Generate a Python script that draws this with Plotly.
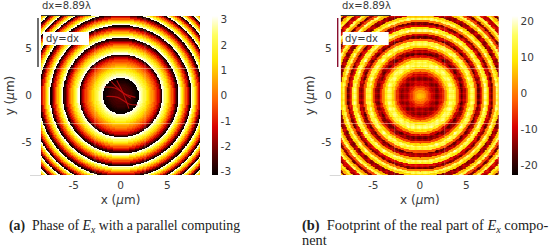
import numpy as np
import plotly.graph_objects as go

W, H = 550, 248
phase_step_um = 0.125
real_step_um = 0.25
phase_profile = [-2.3,-2.3,-2.3,-2.4,-2.4,-2.4,-2.5,-2.5,-2.6,-2.6,-2.7,-2.8,-2.9,-3.0,-3.1,-3.1,
                 3.1,2.9,2.7,2.5,2.2,2.0,1.7,1.4,1.2,0.9,0.6,0.4,0.1,-0.2,-0.5,-0.8,-1.2,-1.6,-2.2,-2.9,
                 3.1,2.8,2.4,2.0,1.6,1.1,0.7,0.2,-0.3,-0.8,-1.3,-1.9,-2.5,-3.0,
                 3.1,2.6,2.0,1.4,0.8,0.2,-0.4,-1.0,-1.6,-2.3,-3.0,
                 3.1,2.5,1.8,1.1,0.4,-0.3,-1.0,-1.7,-2.4,-3.0,
                 3.0,2.2,1.4,0.6,-0.2,-1.0,-1.9,-2.9,
                 3.0,2.0,1.1,0.1,-0.9,-1.9,-2.9,
                 3.0,2.0,1.0,0.0,-1.0,-2.0,-3.0,
                 3.0,2.0,1.0,0.0,-1.0,-2.0,-3.0,3.0]
real_profile = [7,6,3,-2,-7,-11,-14,-16,-16,-13,-7,2,11,18,19,13,1,-11,-18,-15,-5,9,19,15,-3,-18,-13,4,19,13,
                -11,-17,0,18,9,-16,-15,7,18,-5,-17,5,17,-11,-14,14,6,-17,7,14,-16]
bead_ripple = [1.0, 0.92, 0.76, 0.92]
phase_ticks = [-3,-2,-1,0,1,2,3]
real_ticks = [-20,-10,0,10,20]
axis_ticks = [-5,0,5]
# faint red streaks inside the dark core of panel (a), in micrometres
streak_x = [[-1.7,-0.6,0.6,1.6],[-1.5,-0.3,0.9,1.8],[-1.0,0.0,1.1],[-0.4,0.3,0.9]]
streak_y = [[0.9,0.8,0.1,-0.2],[-0.1,-0.2,-0.9,-1.0],[1.5,0.5,-0.3],[1.6,0.2,-1.4]]
hot = [[0,"#050000"],[0.12,"#500000"],[0.3,"#d80000"],[0.47,"#ff6000"],[0.72,"#ffe800"],[0.88,"#ffff60"],[1,"#ffffff"]]
TXT = "#3a3a3a"

grid = np.arange(-8.5, 8.5001, 0.0625)
xx, yy = np.meshgrid(grid, grid)
rr = np.hypot(xx, yy)
z_phase = np.array(phase_profile)[np.clip(np.rint(rr / phase_step_um).astype(int), 0, len(phase_profile) - 1)]
real_lookup = np.array(real_profile, dtype=float)[np.clip(np.rint(rr / real_step_um).astype(int), 0, len(real_profile) - 1)]
ripple = np.array(bead_ripple)
ix = np.floor((xx + 8.5) / 0.16).astype(int) % 4
iy = np.floor((yy + 8.5) / 0.16).astype(int) % 4
z_real = real_lookup * ripple[ix] * ripple[iy]

def px(x): return x / W
def py(y): return 1 - y / H

fig = go.Figure()
panels = [
    dict(x0=41, x1=200, cb=218, z=z_phase, zmin=-3.14, zmax=3.14, ticks=phase_ticks, xa="x", ya="y"),
    dict(x0=340.7, x1=499, cb=518, z=z_real, zmin=-22.8, zmax=21.4, ticks=real_ticks, xa="x2", ya="y2"),
]
for p in panels:
    fig.add_trace(go.Heatmap(
        x=grid, y=grid, z=p["z"], zmin=p["zmin"], zmax=p["zmax"], zsmooth="best",
        colorscale=hot, xaxis=p["xa"], yaxis=p["ya"], hoverinfo="skip",
        colorbar=dict(x=px(p["cb"] - 6), xanchor="left", xref="paper", y=py(175), yanchor="bottom", yref="paper",
                      len=159 / H, lenmode="fraction", thickness=6, thicknessmode="pixels",
                      outlinewidth=0, ticks="", tickvals=p["ticks"], ticktext=[str(t) for t in p["ticks"]],
                      tickfont=dict(family="DejaVu Sans", size=10.5, color=TXT), ypad=0, xpad=0),
    ))
for sx, sy in zip(streak_x, streak_y):
    fig.add_trace(go.Scatter(x=sx, y=sy, mode="lines", xaxis="x", yaxis="y", hoverinfo="skip",
                             line=dict(color="#d01010", width=1.1, shape="spline"), opacity=0.8))

axis = dict(range=[-8.5, 8.5], tickvals=axis_ticks, ticktext=[str(t) for t in axis_ticks], ticks="",
            showgrid=False, zeroline=False, showline=False,
            tickfont=dict(family="DejaVu Sans", size=10.5, color=TXT),
            title_font=dict(family="DejaVu Sans", size=12, color=TXT))
lay = dict(width=W, height=H, autosize=False, margin=dict(l=0, r=0, t=0, b=0),
           paper_bgcolor="white", plot_bgcolor="white", showlegend=False)
xa = dict(axis, ticklabelstandoff=2, title_text="x (<i>µ</i>m)", title_standoff=6)
ya = dict(axis, ticklabelstandoff=8, title_text="y (<i>µ</i>m)", title_standoff=4)
lay["xaxis"] = dict(xa, domain=[px(41), px(200)], anchor="y")
lay["yaxis"] = dict(ya, domain=[py(175), py(16)], anchor="x")
lay["xaxis2"] = dict(xa, domain=[px(340.7), px(499)], anchor="y2")
lay["yaxis2"] = dict(ya, domain=[py(175), py(16)], anchor="x2")
fig.update_layout(**lay)

def note(x, y, text, **kw):
    base = dict(xref="paper", yref="paper", x=px(x), y=py(y), text=text, showarrow=False,
                xanchor="left", yanchor="middle", font=dict(family="DejaVu Sans", size=10, color=TXT))
    base.update(kw)
    fig.add_annotation(**base)

def seg(x0, y0, x1, y1, color, width=1.2):
    fig.add_shape(type="line", xref="paper", yref="paper", x0=px(x0), y0=py(y0), x1=px(x1), y1=py(y1),
                  line=dict(color=color, width=width))

for off, vcol in ((0, "#333333"), (299.7, "#8a1030")):
    note(40 + off, 6, "dx=8.89λ")
    seg(41 + off, 15.5, 91 + off, 15.5, "#333333")
    seg(38 + off, 18, 38 + off, 67, vcol, 1.4)
    seg(30 + off, 175.5, 41 + off, 175.5, "#d8d8d8", 1)
    fig.add_shape(type="rect", xref="paper", yref="paper", x0=px(43 + off), x1=px(89 + off), y0=py(45), y1=py(32),
                  fillcolor="white", line_width=0)
    note(43.5 + off, 38.5, "dy=dx")
    # faint seams between computing tiles
    for s in (68.5, 123.5):
        seg(41 + off, s, 200 + off, s, "rgba(255,240,200,0.45)", 1)
    for s in (95, 145):
        seg(s + off, 16, s + off, 175, "rgba(255,240,200,0.25)", 1)

note(7, 226, "<b>(a)</b>  Phase of <i>E<sub>x</sub></i> with a parallel computing",
     font=dict(family="Liberation Serif", size=13.8, color="#222222"))
note(300, 226, "<b>(b)</b>  Footprint of the real part of <i>E<sub>x</sub></i> compo-",
     font=dict(family="Liberation Serif", size=14.4, color="#222222"))
note(300, 239.5, "nent", font=dict(family="Liberation Serif", size=14.4, color="#222222"))

fig.write_html("out.html", config={"displayModeBar": False}, post_script="document.body.style.margin='0';")
